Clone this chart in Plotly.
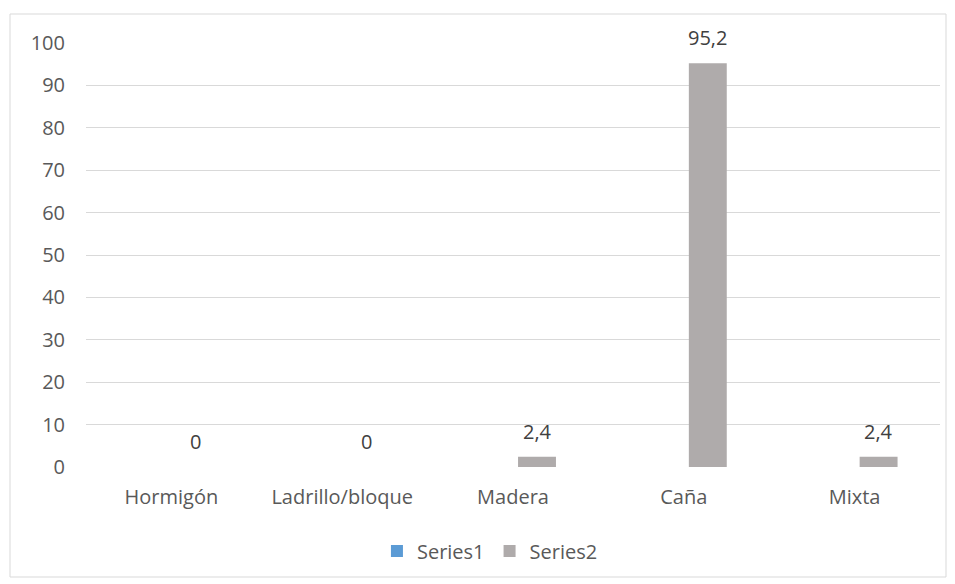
import plotly.graph_objects as go

categories = ["Hormigón", "Ladrillo/bloque", "Madera", "Caña", "Mixta"]
series1 = [None, None, None, None, None]
series2 = [0, 0, 2.4, 95.2, 2.4]
y_ticks = [0, 10, 20, 30, 40, 50, 60, 70, 80, 90, 100]

FONT = "Open Sans"
TXT = "#595959"

W, H = 955, 584
ml, mr, mt, mb = 86, 15, 43, 117

fig = go.Figure()
fig.add_trace(go.Bar(name="Series1", x=categories, y=series1, marker_color="#5B9BD5",
                     marker_line_width=0))
fig.add_trace(go.Bar(name="Series2", x=categories, y=series2, marker_color="#AFABAB",
                     marker_line_width=0))

for c, v in zip(categories, series2):
    fig.add_annotation(x=c, y=v, text=f"{v:g}".replace(".", ","), showarrow=False,
                       xshift=24, yanchor="bottom", yshift=10,
                       font=dict(family=FONT, size=20, color="#404040"))

pw, ph = W - ml - mr, H - mt - mb
fig.add_shape(type="rect", xref="paper", yref="paper",
              x0=(10 - ml) / pw, x1=(946 - ml) / pw,
              y0=(H - mb - 577) / ph, y1=(H - mb - 14) / ph,
              line=dict(color="#D9D9D9", width=1), fillcolor="rgba(0,0,0,0)", layer="below")

fig.update_layout(
    width=W, height=H,
    margin=dict(l=ml, r=mr, t=mt, b=mb),
    paper_bgcolor="white", plot_bgcolor="white",
    barmode="group", bargap=0.438, bargroupgap=0.21,
    font=dict(family=FONT, size=20, color=TXT),
    showlegend=True,
    legend=dict(orientation="h", x=0.473, xanchor="center", y=-0.198, yanchor="middle",
                font=dict(family=FONT, size=20, color=TXT), itemwidth=30),
    xaxis=dict(showgrid=False, showline=False, ticks="", ticklabelstandoff=16,
               tickfont=dict(family=FONT, size=20, color=TXT)),
    yaxis=dict(range=[0, 100], tickvals=y_ticks, showgrid=True, gridcolor="#D9D9D9",
               gridwidth=1.3, zeroline=False, showline=False, ticks="",
               ticklabelstandoff=20, tickfont=dict(family=FONT, size=20, color=TXT)),
)

fig.write_html("out.html", config={"displayModeBar": False},
               post_script="document.body.style.margin='0';")
